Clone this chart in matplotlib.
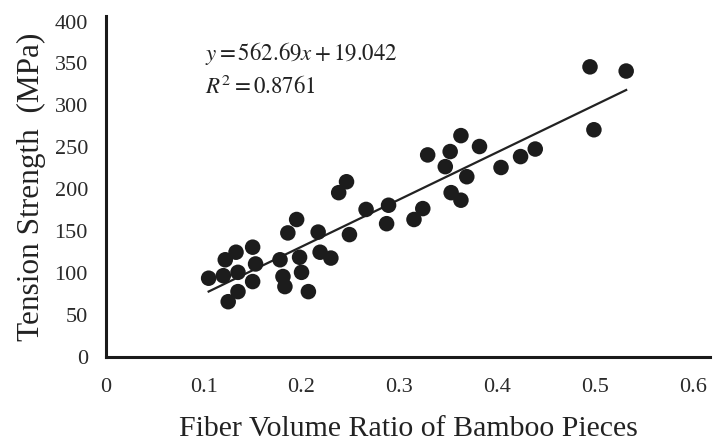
import matplotlib
matplotlib.use("Agg")
import matplotlib.pyplot as plt
import numpy as np

plt.rcParams["font.family"] = ["Liberation Serif", "DejaVu Serif"]
plt.rcParams["mathtext.fontset"] = "stix"

# fibre volume ratio vs tension strength
fiber_ratio = [
    0.105, 0.120, 0.135, 0.122, 0.133, 0.150, 0.153, 0.150, 0.135, 0.125,
    0.178, 0.198, 0.219, 0.230, 0.200, 0.181, 0.183, 0.207, 0.186, 0.195,
    0.217, 0.249, 0.238, 0.246, 0.266, 0.289, 0.287, 0.315, 0.324, 0.329,
    0.352, 0.347, 0.353, 0.363, 0.363, 0.382, 0.369, 0.404, 0.424, 0.439,
    0.495, 0.532, 0.499,
]
strength = [
    94, 97, 101, 116, 125, 131, 111, 90, 78, 66,
    116, 119, 125, 118, 101, 96, 84, 78, 148, 164,
    149, 146, 196, 209, 176, 181, 159, 164, 177, 241,
    245, 227, 196, 187, 264, 251, 215, 226, 239, 248,
    346, 341, 271,
]
slope, intercept = 562.69, 19.042
fit_x = [0.105, 0.532]

x_ticks = [0, 0.1, 0.2, 0.3, 0.4, 0.5, 0.6]
x_tick_labels = ["0", "0.1", "0.2", "0.3", "0.4", "0.5", "0.6"]
y_ticks = [0, 50, 100, 150, 200, 250, 300, 350, 400]

fig = plt.figure(figsize=(7.16, 4.48), dpi=100)
ax = fig.add_axes([0.148, 0.203, 0.844, 0.762])

ax.scatter(fiber_ratio, strength, s=125, color="#1c1c1c", edgecolors="none", zorder=3)
fx = np.array(fit_x)
ax.plot(fx, slope * fx + intercept, color="#222222", lw=1.6, zorder=2)

ax.set_xlim(0, 0.618)
ax.set_ylim(0, 407)
ax.set_xticks(x_ticks)
ax.set_xticklabels(x_tick_labels)
ax.set_yticks(y_ticks)
ax.tick_params(length=0, colors="#2a2a2a")
ax.tick_params(axis="x", labelsize=16, pad=15)
ax.tick_params(axis="y", labelsize=16, pad=13)

for side in ["top", "right"]:
    ax.spines[side].set_visible(False)
for side in ["left", "bottom"]:
    ax.spines[side].set_linewidth(2.2)
    ax.spines[side].set_color("#1a1a1a")

ax.set_xlabel("Fiber Volume Ratio of Bamboo Pieces", fontsize=21.5, color="#222222", labelpad=14)
ax.set_ylabel("Tension Strength  (MPa)", fontsize=22.5, color="#222222", labelpad=6)

ax.text(0.101, 362, r"$y = 562.69x + 19.042$", fontsize=16.5, color="#222222", va="center")
ax.text(0.101, 322, r"$R^2 = 0.8761$", fontsize=16.5, color="#222222", va="center")

fig.savefig("out.png", dpi=100)
